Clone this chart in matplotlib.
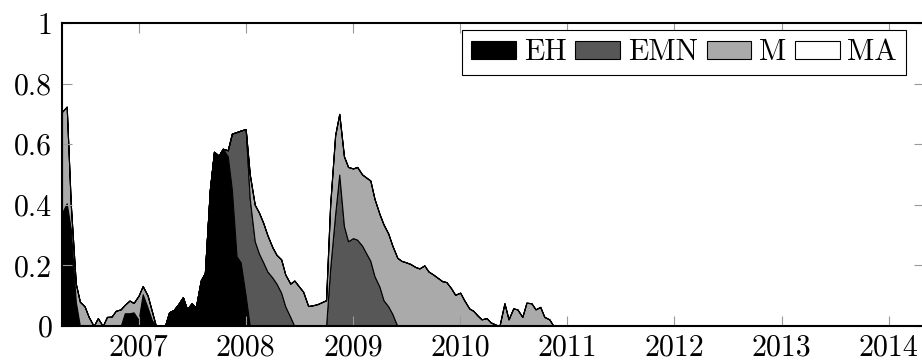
import pandas as pd
import matplotlib
matplotlib.use("Agg")
import matplotlib.pyplot as plt
import matplotlib.dates as mdates

plt.rcParams["font.family"] = "cmr10"
plt.rcParams["mathtext.fontset"] = "cm"
plt.rcParams["axes.formatter.use_mathtext"] = True

# semi-monthly observations, April 2006 to end of 2010
dates = pd.date_range("2006-04-15", periods=112, freq="SMS")

labels = ["EH", "EMN", "M", "MA"]
colors = ["#000000", "#575757", "#aaaaaa", "#ffffff"]

eh = [0.373, 0.405, 0.32, 0.08, 0.0, 0.0, 0.0, 0.0, 0.0, 0.0, 0.0, 0.0,
      0.0, 0.0, 0.042, 0.042, 0.045, 0.02, 0.105, 0.06, 0.02, 0.0, 0.0, 0.0,
      0.045, 0.053, 0.07, 0.095, 0.055, 0.075, 0.06, 0.15, 0.175, 0.45, 0.575, 0.562,
      0.585, 0.56, 0.45, 0.23, 0.21, 0.10, 0.0, 0.0, 0.0, 0.0, 0.0, 0.0,
      0.0, 0.0, 0.0, 0.0, 0.0, 0.0, 0.0, 0.0, 0.0, 0.0, 0.0, 0.0,
      0.0, 0.0, 0.0, 0.0, 0.0, 0.0, 0.0, 0.0, 0.0, 0.0, 0.0, 0.0,
      0.0, 0.0, 0.0, 0.0, 0.0, 0.0, 0.0, 0.0, 0.0, 0.0, 0.0, 0.0,
      0.0, 0.0, 0.0, 0.0, 0.0, 0.0, 0.0, 0.0, 0.0, 0.0, 0.0, 0.0,
      0.0, 0.0, 0.0, 0.0, 0.0, 0.0, 0.0, 0.0, 0.0, 0.0, 0.0, 0.0,
      0.0, 0.0, 0.0, 0.0]

emn = [0.0, 0.0, 0.0, 0.0, 0.0, 0.0, 0.0, 0.0, 0.0, 0.0, 0.0, 0.0,
       0.0, 0.0, 0.0, 0.0, 0.0, 0.0, 0.0, 0.0, 0.0, 0.0, 0.0, 0.0,
       0.0, 0.0, 0.0, 0.0, 0.0, 0.0, 0.0, 0.0, 0.0, 0.0, 0.0, 0.0,
       0.0, 0.02, 0.185, 0.41, 0.435, 0.55, 0.42, 0.28, 0.24, 0.21, 0.18, 0.16,
       0.14, 0.11, 0.065, 0.03, 0.0, 0.0, 0.0, 0.0, 0.0, 0.0, 0.0, 0.0,
       0.19, 0.37, 0.50, 0.33, 0.28, 0.29, 0.285, 0.265, 0.24, 0.215, 0.165, 0.13,
       0.085, 0.065, 0.04, 0.0, 0.0, 0.0, 0.0, 0.0, 0.0, 0.0, 0.0, 0.0,
       0.0, 0.0, 0.0, 0.0, 0.0, 0.0, 0.0, 0.0, 0.0, 0.0, 0.0, 0.0,
       0.0, 0.0, 0.0, 0.0, 0.0, 0.0, 0.0, 0.0, 0.0, 0.0, 0.0, 0.0,
       0.0, 0.0, 0.0, 0.0]

m = [0.334, 0.319, 0.08, 0.06, 0.08, 0.065, 0.03, 0.0, 0.026, 0.0, 0.03, 0.031,
     0.05, 0.055, 0.028, 0.042, 0.031, 0.08, 0.027, 0.04, 0.03, 0.0, 0.0, 0.0,
     0.0, 0.0, 0.0, 0.0, 0.0, 0.0, 0.0, 0.0, 0.0, 0.0, 0.0, 0.0,
     0.0, 0.0, 0.0, 0.0, 0.0, 0.0, 0.08, 0.12, 0.135, 0.13, 0.12, 0.10,
     0.095, 0.11, 0.105, 0.11, 0.15, 0.13, 0.113, 0.066, 0.068, 0.072, 0.078, 0.085,
     0.21, 0.26, 0.20, 0.23, 0.245, 0.23, 0.24, 0.235, 0.25, 0.265, 0.255, 0.24,
     0.25, 0.24, 0.225, 0.225, 0.215, 0.21, 0.205, 0.195, 0.19, 0.20, 0.18, 0.17,
     0.16, 0.148, 0.145, 0.125, 0.103, 0.11, 0.085, 0.058, 0.05, 0.035, 0.022, 0.026,
     0.012, 0.005, 0.0, 0.075, 0.022, 0.058, 0.055, 0.03, 0.077, 0.075, 0.055, 0.063,
     0.03, 0.022, 0.0, 0.0]

ma = [0.0, 0.0, 0.0, 0.0, 0.0, 0.0, 0.0, 0.0, 0.0, 0.0, 0.0, 0.0,
      0.0, 0.0, 0.0, 0.0, 0.0, 0.0, 0.0, 0.0, 0.0, 0.0, 0.0, 0.0,
      0.0, 0.0, 0.0, 0.0, 0.0, 0.0, 0.0, 0.0, 0.0, 0.0, 0.0, 0.0,
      0.0, 0.0, 0.0, 0.0, 0.0, 0.0, 0.0, 0.0, 0.0, 0.0, 0.0, 0.0,
      0.0, 0.0, 0.0, 0.0, 0.0, 0.0, 0.0, 0.0, 0.0, 0.0, 0.0, 0.0,
      0.0, 0.0, 0.0, 0.0, 0.0, 0.0, 0.0, 0.0, 0.0, 0.0, 0.0, 0.0,
      0.0, 0.0, 0.0, 0.0, 0.0, 0.0, 0.0, 0.0, 0.0, 0.0, 0.0, 0.0,
      0.0, 0.0, 0.0, 0.0, 0.0, 0.0, 0.0, 0.0, 0.0, 0.0, 0.0, 0.0,
      0.0, 0.0, 0.0, 0.0, 0.0, 0.0, 0.0, 0.0, 0.0, 0.0, 0.0, 0.0,
      0.0, 0.0, 0.0, 0.0]

yticks = [0, 0.2, 0.4, 0.6, 0.8, 1]
yticklabels = ["0", "0.2", "0.4", "0.6", "0.8", "1"]

fig = plt.figure(figsize=(9.22, 3.6), dpi=100)
ax = fig.add_axes([62 / 922, 34 / 360, (924 - 62) / 922, 303 / 360])

ax.stackplot(dates, eh, emn, m, ma, labels=labels, colors=colors,
             edgecolor="black", linewidth=0.8)

ax.set_xlim(dates[0], pd.Timestamp("2014-05-01"))
ax.set_ylim(0, 1)
ax.xaxis.set_major_locator(mdates.YearLocator())
ax.xaxis.set_major_formatter(mdates.DateFormatter("%Y"))
ax.set_yticks(yticks)
ax.set_yticklabels(yticklabels)

ax.tick_params(direction="in", length=7, width=0.8, color="#999999",
               labelsize=21.5, top=True, right=True)
ax.tick_params(axis="x", pad=6)
ax.tick_params(axis="y", pad=7)

for side in ["left", "top", "bottom"]:
    ax.spines[side].set_linewidth(1.5)
ax.spines["right"].set_visible(False)

leg = ax.legend(loc="upper right", bbox_to_anchor=(906 / 922, 1 - 30 / 360),
                bbox_transform=fig.transFigure, ncol=4, fontsize=21.5,
                handlelength=1.5, handleheight=0.55, handletextpad=0.25,
                columnspacing=0.3, borderpad=0.3, borderaxespad=0,
                fancybox=False, framealpha=1, edgecolor="black")
leg.get_frame().set_linewidth(0.8)

fig.savefig("out.png", dpi=100)
